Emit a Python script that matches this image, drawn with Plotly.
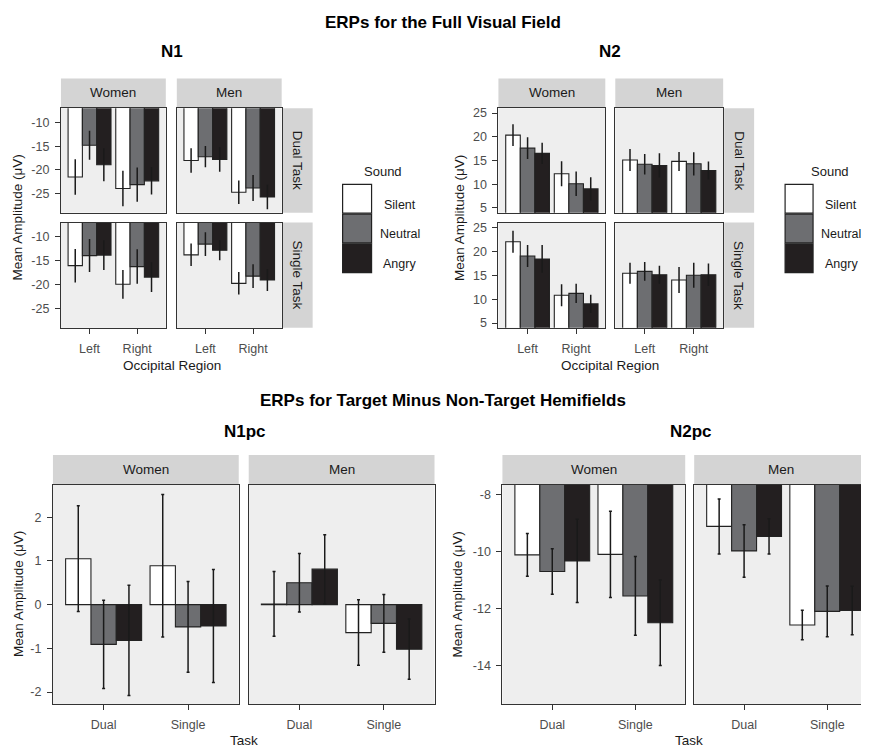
import plotly.graph_objects as go

# page body has an 8px default margin: figure is sized so it ends exactly at the window edges
OX, OY = 8, 8
W, H = 869 - OX, 750 - OY
FONT = "Liberation Sans, Arial, Helvetica, sans-serif"

sounds = ["Silent", "Neutral", "Angry"]
sound_colors = ["#ffffff", "#6d6e71", "#231f20"]
regions = ["Left", "Right"]
tasks = ["Dual", "Single"]
genders = ["Women", "Men"]

# ---- N1 (full visual field); rows = Silent, Neutral, Angry; cols = Left, Right
n1_dual_women_mean = [[-21.5, -23.9], [-14.8, -23.1], [-18.9, -22.3]]
n1_dual_women_err = [[3.75, 3.75], [3.05, 3.6], [3.5, 2.9]]
n1_dual_men_mean = [[-18.0, -24.7], [-17.2, -23.8], [-17.8, -25.7]]
n1_dual_men_err = [[2.6, 2.5], [2.25, 2.75], [2.6, 2.6]]
n1_single_women_mean = [[-16.0, -19.9], [-13.9, -16.2], [-13.8, -18.4]]
n1_single_women_err = [[3.5, 3.0], [3.45, 3.6], [3.1, 3.1]]
n1_single_men_mean = [[-13.75, -19.7], [-11.5, -18.2], [-12.8, -19.0]]
n1_single_men_err = [[2.35, 2.35], [2.5, 2.5], [2.1, 2.3]]

# ---- N2 (full visual field)
n2_dual_women_mean = [[20.35, 12.2], [17.6, 10.1], [16.5, 9.0]]
n2_dual_women_err = [[2.3, 2.65], [2.3, 2.6], [2.25, 2.45]]
n2_dual_men_mean = [[15.1, 14.8], [14.2, 14.3], [13.95, 12.9]]
n2_dual_men_err = [[2.3, 2.0], [2.15, 2.45], [2.55, 1.9]]
n2_single_women_mean = [[22.0, 10.8], [19.0, 11.2], [18.4, 9.0]]
n2_single_women_err = [[2.3, 2.3], [2.3, 2.0], [2.9, 1.9]]
n2_single_men_mean = [[15.4, 14.0], [15.8, 15.0], [15.1, 15.1]]
n2_single_men_err = [[2.2, 2.7], [1.95, 2.6], [1.9, 2.35]]

# ---- N1pc (target minus non-target); cols = Dual, Single
n1pc_women_mean = [[1.05, 0.89], [-0.91, -0.51], [-0.82, -0.49]]
n1pc_women_err = [[1.21, 1.63], [1.01, 1.04], [1.26, 1.29]]
n1pc_men_mean = [[0.015, -0.64], [0.50, -0.43], [0.81, -1.02]]
n1pc_men_err = [[0.74, 0.75], [0.67, 0.66], [0.79, 0.69]]

# ---- N2pc
n2pc_women_mean = [[-10.11, -10.09], [-10.69, -11.55], [-10.32, -12.49]]
n2pc_women_err = [[0.75, 1.51], [0.80, 1.38], [1.46, 1.50]]
n2pc_men_mean = [[-9.11, -12.57], [-9.97, -12.09], [-9.46, -12.06]]
n2pc_men_err = [[0.965, 0.52], [0.92, 0.89], [0.62, 0.85]]

n1_yticks = [-25, -20, -15, -10]
n2_yticks = [5, 10, 15, 20, 25]
n1pc_yticks = [-2, -1, 0, 1, 2]
n2pc_yticks = [-14, -12, -10, -8]

# panel: mean, err, cats, x0, x1, y0, y1 (window pixels), yrange, yticks, left, bottom, cap, xrange
panels = [
    (n1_dual_women_mean, n1_dual_women_err, regions, 61, 166, 107, 212, [-29, -7], n1_yticks, True, False, 0, [-0.6, 1.6]),
    (n1_dual_men_mean, n1_dual_men_err, regions, 177, 282, 107, 212, [-29, -7], n1_yticks, False, False, 0, [-0.6, 1.6]),
    (n1_single_women_mean, n1_single_women_err, regions, 61, 166, 222, 328, [-29, -7], n1_yticks, True, True, 0, [-0.6, 1.6]),
    (n1_single_men_mean, n1_single_men_err, regions, 177, 282, 222, 328, [-29, -7], n1_yticks, False, True, 0, [-0.6, 1.6]),
    (n2_dual_women_mean, n2_dual_women_err, regions, 499, 606, 107, 212, [4, 26], n2_yticks, True, False, 0, [-0.6, 1.6]),
    (n2_dual_men_mean, n2_dual_men_err, regions, 616, 724, 107, 212, [4, 26], n2_yticks, False, False, 0, [-0.6, 1.6]),
    (n2_single_women_mean, n2_single_women_err, regions, 499, 606, 222, 328, [4, 26], n2_yticks, True, True, 0, [-0.6, 1.6]),
    (n2_single_men_mean, n2_single_men_err, regions, 616, 724, 222, 328, [4, 26], n2_yticks, False, True, 0, [-0.6, 1.6]),
    (n1pc_women_mean, n1pc_women_err, tasks, 53, 239, 486, 707, [-2.28, 2.74], n1pc_yticks, True, True, 1.5, [-0.6, 1.6]),
    (n1pc_men_mean, n1pc_men_err, tasks, 249, 435, 486, 707, [-2.28, 2.74], n1pc_yticks, False, True, 1.5, [-0.6, 1.6]),
    (n2pc_women_mean, n2pc_women_err, tasks, 503, 686, 486, 707, [-15.35, -7.65], n2pc_yticks, True, True, 1.5, [-0.6, 1.6]),
    (n2pc_men_mean, n2pc_men_err, tasks, 695, 869, 486, 707, [-15.35, -7.65], n2pc_yticks, False, True, 1.5, [-0.6, 1.49]),
]


def px(x):
    return (x - OX) / W


def py(y):
    return 1 - (y - OY) / H


fig = go.Figure()
axes = {}
for i, (mean, err, cats, x0, x1, y0, y1, yr, yt, left, bottom, cap, xr) in enumerate(panels):
    n = i + 1
    xref = "x" if n == 1 else f"x{n}"
    yref = "y" if n == 1 else f"y{n}"
    for k, s in enumerate(sounds):
        fig.add_trace(go.Bar(
            x=cats, y=mean[k], name=s, showlegend=False,
            marker=dict(color=sound_colors[k], line=dict(color="#222222", width=1.1)),
            error_y=dict(type="data", array=err[k], visible=True, color="#1a1a1a",
                         thickness=1.5, width=cap),
            xaxis=xref, yaxis=yref, hoverinfo="skip",
        ))
    axes["xaxis" if n == 1 else f"xaxis{n}"] = dict(
        domain=[px(x0), min(px(x1), 1.0)], anchor=yref, type="category",
        categoryorder="array", categoryarray=cats, range=xr,
        showline=True, mirror=True, linecolor="#333333", linewidth=1,
        showgrid=False, zeroline=False,
        ticks="outside" if bottom else "", ticklen=5, tickcolor="#333333",
        showticklabels=bottom, ticklabelstandoff=4,
        tickfont=dict(family=FONT, size=12.5, color="#4d4d4d"), fixedrange=True,
    )
    axes["yaxis" if n == 1 else f"yaxis{n}"] = dict(
        domain=[py(y1), py(y0)], anchor=xref, range=yr,
        tickvals=yt, ticktext=[f"{v:g}" for v in yt],
        showline=True, mirror=True, linecolor="#333333", linewidth=1,
        showgrid=False, zeroline=False,
        ticks="outside" if left else "", ticklen=5, tickcolor="#333333",
        showticklabels=left, ticklabelstandoff=3,
        tickfont=dict(family=FONT, size=12.5, color="#4d4d4d"), fixedrange=True,
    )

shapes = []
annotations = []


def strip(x0, x1, y0, y1, text, angle=0):
    shapes.append(dict(type="rect", xref="paper", yref="paper", x0=px(x0), x1=min(px(x1), 1.0),
                       y0=py(y1), y1=py(y0), fillcolor="#d4d4d4", line=dict(width=0), layer="below"))
    annotations.append(dict(xref="paper", yref="paper", x=px((x0 + x1) / 2), y=py((y0 + y1) / 2),
                            text=text, showarrow=False, textangle=angle,
                            font=dict(family=FONT, size=13.5, color="#1a1a1a"),
                            xanchor="center", yanchor="middle"))


def label(x, y, text, size=13.5, color="#1a1a1a", angle=0, bold=False):
    annotations.append(dict(xref="paper", yref="paper", x=px(x), y=py(y),
                            text=(f"<b>{text}</b>" if bold else text),
                            showarrow=False, textangle=angle,
                            font=dict(family=FONT, size=size, color=color),
                            xanchor="center", yanchor="middle"))


# top strips
for (wx0, wx1, mx0, mx1, rx0, rx1) in [(61, 166, 177, 282, 283, 313), (499, 606, 616, 724, 725, 755)]:
    strip(wx0, wx1, 77, 106, genders[0])
    strip(mx0, mx1, 77, 106, genders[1])
    strip(rx0, rx1, 107, 212, "Dual Task", 90)
    strip(rx0, rx1, 222, 328, "Single Task", 90)

# bottom strips
for (x0, x1, g) in [(53, 239, 0), (249, 435, 1), (503, 686, 0), (695, 869, 1)]:
    strip(x0, x1, 456, 486, genders[g])

# titles
label(444, 21, "ERPs for the Full Visual Field", size=17, color="#000000", bold=True)
label(172, 50, "N1", size=17, color="#000000", bold=True)
label(611, 50, "N2", size=17, color="#000000", bold=True)
label(444, 401, "ERPs for Target Minus Non-Target Hemifields", size=17, color="#000000", bold=True)
label(245, 432, "N1pc", size=17, color="#000000", bold=True)
label(692, 432, "N2pc", size=17, color="#000000", bold=True)

# axis titles
ytitle = "Mean Amplitude (μV)"
label(18, 217, ytitle, angle=-90)
label(460, 217, ytitle, angle=-90)
label(18, 596, ytitle, angle=-90)
label(458, 596, ytitle, angle=-90)
label(172, 366, "Occipital Region")
label(611, 366, "Occipital Region")
label(244, 743, "Task")
label(690, 743, "Task")

# legends
for (kx0, kx1, tx, lx) in [(343, 372, 383, 400), (786, 814, 831, 842)]:
    label(tx, 171, "Sound", size=13)
    key_tops = [183, 213, 243]
    label_ys = [204, 234, 264]
    for k, s in enumerate(sounds):
        shapes.append(dict(type="rect", xref="paper", yref="paper", x0=px(kx0), x1=px(kx1),
                           y0=py(key_tops[k] + 29.5), y1=py(key_tops[k] + 0.5),
                           fillcolor=sound_colors[k], line=dict(color="#222222", width=1.2)))
        label(lx, label_ys[k], s, size=12.5)

fig.update_layout(
    width=W, height=H, margin=dict(l=0, r=0, t=0, b=0),
    paper_bgcolor="#ffffff", plot_bgcolor="#eeeeee",
    barmode="group", bargap=0.1, bargroupgap=0,
    showlegend=False, shapes=shapes, annotations=annotations,
    font=dict(family=FONT),
    **axes,
)

fig.write_html("out.html")
